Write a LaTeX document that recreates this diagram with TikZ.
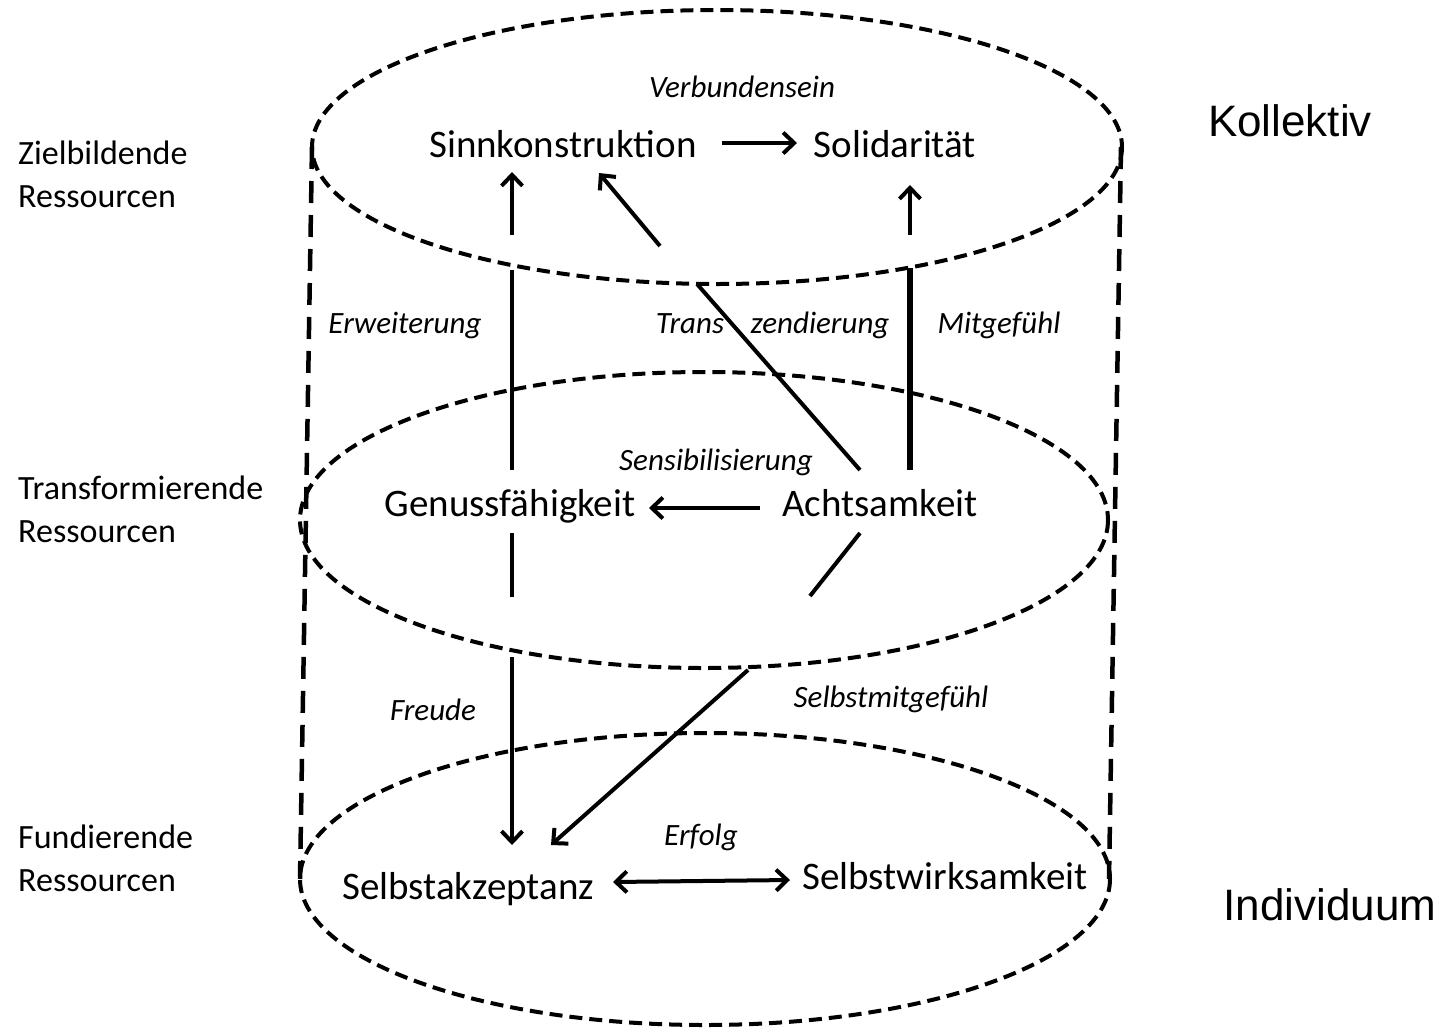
\documentclass[tikz,border=0pt]{standalone}
\usepackage{fontspec}
\setmainfont{Carlito}
\newfontfamily\arialf{Liberation Sans}
\usetikzlibrary{arrows.meta}
\begin{document}
\begin{tikzpicture}[x=1pt,y=-1pt,
  cyl/.style={line width=4pt, dash pattern=on 13pt off 7pt},
  side/.style={line width=4.5pt, dash pattern=on 22pt off 12pt},
  conn/.style={line width=4pt},
  thick conn/.style={line width=5.5pt},
  tipped/.style={-{Straight Barb[length=11pt,width=21pt]}},
  both tipped/.style={{Straight Barb[length=11pt,width=21pt]}-{Straight Barb[length=11pt,width=21pt]}},
  main/.style={inner sep=0pt, anchor=base, font=\fontsize{39}{44}\selectfont},
  ital/.style={inner sep=0pt, anchor=base, font=\fontsize{31}{35}\selectfont\itshape},
  side label/.style={inner sep=0pt, anchor=west, align=left, font=\fontsize{34}{43}\selectfont},
  big/.style={inner sep=0pt, font=\fontsize{44}{50}\selectfont\arialf}]
\useasboundingbox (0,0) rectangle (1446,1029);
% cylinder
\draw[cyl] (717,147) ellipse [x radius=405, y radius=137];
\draw[cyl] (704,520) ellipse [x radius=404, y radius=148];
\draw[cyl] (705,879) ellipse [x radius=405, y radius=146];
\coordinate (tl) at (312,147);
\coordinate (bl) at (300,879);
\coordinate (tr) at (1121,147);
\coordinate (br) at (1109,879);
\draw[side] (tl) -- (bl);
\draw[side] (tr) -- (br);
% main nodes
\node[main] (sinn) at (563,157) {Sinnkonstruktion};
\node[main] (soli) at (895,157) {Solidarität};
\node[main] (genu) at (510,516) {Genussfähigkeit};
\node[main] (acht) at (880,516) {Achtsamkeit};
\node[main] (sakz) at (468,899) {Selbstakzeptanz};
\node[main] (swirk) at (945,889) {Selbstwirksamkeit};
% italic labels
\node[ital] (verb) at (742,97) {Verbundensein};
\node[ital] (erw) at (405,333) {Erweiterung};
\node[ital] (trans) at (690,333) {Trans};
\node[ital] (zend) at (820,333) {zendierung};
\node[ital] (mitg) at (999,333) {Mitgefühl};
\node[ital] (sens) at (716,470) {Sensibilisierung};
\node[ital] (freu) at (433,720) {Freude};
\node[ital] (smit) at (891,707) {Selbstmitgefühl};
\node[ital] (erf) at (701,845) {Erfolg};
% side labels
\node[side label] (ziel) at (18,174) {Zielbildende\\Ressourcen};
\node[side label] (trf) at (18,509) {Transformierende\\Ressourcen};
\node[side label] (fund) at (18,858) {Fundierende\\Ressourcen};
\node[big] (koll) at (1290,121) {Kollektiv};
\node[big] (indi) at (1330,905) {Individuum};
% connectors
\coordinate (a1) at (722,143); \coordinate (a2) at (797,143);
\draw[conn,tipped] (a1) -- (a2);
\coordinate (b1) at (512,235); \coordinate (b2) at (512,172);
\draw[conn,tipped] (b1) -- (b2);
\coordinate (c1) at (910,235); \coordinate (c2) at (910,185);
\draw[conn,tipped] (c1) -- (c2);
\coordinate (d1) at (660,246); \coordinate (d2) at (599,173);
\draw[conn,tipped] (d1) -- (d2);
\coordinate (e1) at (512,270); \coordinate (e2) at (512,470);
\draw[conn] (e1) -- (e2);
\coordinate (f1) at (910,268); \coordinate (f2) at (910,470);
\draw[thick conn] (f1) -- (f2);
\coordinate (g1) at (697,284); \coordinate (g2) at (860,470);
\draw[conn] (g1) -- (g2);
\coordinate (h1) at (760,508); \coordinate (h2) at (649,508);
\draw[conn,tipped] (h1) -- (h2);
\coordinate (i1) at (512,533); \coordinate (i2) at (512,597);
\draw[conn] (i1) -- (i2);
\coordinate (j1) at (860,533); \coordinate (j2) at (810,596);
\draw[conn] (j1) -- (j2);
\coordinate (k1) at (512,657); \coordinate (k2) at (512,845);
\draw[conn,tipped] (k1) -- (k2);
\coordinate (l1) at (748,670); \coordinate (l2) at (551,845);
\draw[conn,tipped] (l1) -- (l2);
\coordinate (m1) at (613,882); \coordinate (m2) at (790,880);
\draw[conn,both tipped] (m1) -- (m2);
\end{tikzpicture}
\end{document}
